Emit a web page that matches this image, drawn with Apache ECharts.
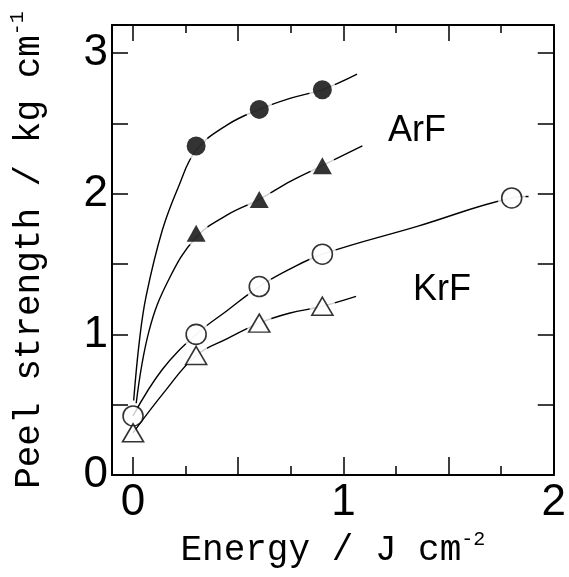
<!DOCTYPE html>
<html>
<head>
<meta charset="utf-8">
<script src="https://cdn.jsdelivr.net/npm/echarts@6/dist/echarts.min.js"></script>
<style>
  html, body { margin: 0; padding: 0; background: #fff; }
  #chart { width: 569px; height: 577px; }
</style>
</head>
<body>
<div id="chart"></div>
<script>
// measured points
const arfCircle = [[0.3, 2.34], [0.6, 2.6], [0.9, 2.74]]
const arfTriangle = [[0.3, 1.72], [0.6, 1.96], [0.9, 2.2]]
const krfCircle = [[0, 0.42], [0.3, 1.0], [0.6, 1.34], [0.9, 1.57], [1.8, 1.97]]
const krfTriangle = [[0, 0.3], [0.3, 0.85], [0.6, 1.08], [0.9, 1.2]]

// hand-drawn fit curves
const arfCircleCurve = [[0.003, 0.53], [0.03, 0.95], [0.062, 1.27], [0.139, 1.74], [0.216, 2.05], [0.3, 2.31], [0.448, 2.49], [0.6, 2.6], [0.75, 2.68], [0.9, 2.74], [1.065, 2.85]]
const arfTriangleCurve = [[0.015, 0.51], [0.077, 1.03], [0.17, 1.39], [0.3, 1.69], [0.448, 1.85], [0.6, 1.96], [0.75, 2.09], [0.9, 2.2], [1.09, 2.34]]
const krfCircleCurve = [[0, 0.42], [0.139, 0.75], [0.3, 1.0], [0.448, 1.17], [0.6, 1.34], [0.74, 1.46], [0.9, 1.57], [1.355, 1.77], [1.8, 1.97], [1.88, 1.98]]
const krfTriangleCurve = [[0, 0.3], [0.154, 0.6], [0.3, 0.85], [0.448, 0.97], [0.6, 1.08], [0.742, 1.15], [0.9, 1.2], [1.06, 1.27]]

const xMajor = [0, 0.5, 1, 1.5, 2]
const xMinor = [0.25, 0.75, 1.25, 1.75]
const xLabels = [0, 1, 2]
const yTicks = [0.5, 1, 1.5, 2, 2.5, 3]
const yLabels = [0, 1, 2, 3]

const chart = echarts.init(document.getElementById('chart'))

const monoFont = 'Liberation Mono'
const numFont = 'Liberation Sans'
const line = { color: '#000', width: 2 }
const tick = { color: '#000', width: 1.5 }

const xBase = {
  type: 'value',
  min: -0.1,
  max: 2,
  splitLine: { show: false }
}
const yBase = {
  type: 'value',
  min: 0,
  max: 3.2,
  splitLine: { show: false }
}

const curve = (data) => ({
  type: 'line',
  data,
  smooth: 0.4,
  showSymbol: false,
  symbol: 'none',
  lineStyle: { color: '#000', width: 1.4 },
  silent: true,
  z: 2
})

const halo = (data, size) => ({
  type: 'scatter',
  data: data.filter(d => d[0] > 0),
  symbol: 'circle',
  symbolSize: size,
  itemStyle: { color: '#fff' },
  silent: true,
  z: 3
})

const option = {
  backgroundColor: '#fff',
  animation: false,
  grid: { left: 109, right: 8, top: 25, bottom: 102 },
  xAxis: [
    {
      ...xBase,
      position: 'bottom',
      name: 'Energy / J cm{sup|-2}',
      nameLocation: 'middle',
      nameGap: 50,
      nameTextStyle: {
        fontFamily: monoFont, fontSize: 36, color: '#000',
        rich: { sup: { fontFamily: monoFont, fontSize: 20, color: '#000', padding: [0, 0, 22, 0] } }
      },
      axisLine: { show: true, onZero: false, lineStyle: line },
      axisTick: { show: true, inside: true, length: 18, customValues: xMajor, lineStyle: tick },
      axisLabel: { show: true, customValues: xLabels, fontFamily: numFont, fontSize: 44, color: '#000', margin: 6 }
    },
    {
      ...xBase,
      position: 'bottom',
      axisLine: { show: false, onZero: false },
      axisTick: { show: true, inside: true, length: 9, customValues: xMinor, lineStyle: tick },
      axisLabel: { show: false }
    },
    {
      ...xBase,
      position: 'top',
      axisLine: { show: true, onZero: false, lineStyle: line },
      axisTick: { show: true, inside: true, length: 16, customValues: xMajor, lineStyle: tick },
      axisLabel: { show: false }
    },
    {
      ...xBase,
      position: 'top',
      axisLine: { show: false, onZero: false },
      axisTick: { show: true, inside: true, length: 8, customValues: xMinor, lineStyle: tick },
      axisLabel: { show: false }
    }
  ],
  yAxis: [
    {
      ...yBase,
      position: 'left',
      name: 'Peel strength / kg cm{sup|-1}',
      nameLocation: 'middle',
      nameRotate: 90,
      nameGap: 62,
      nameTextStyle: {
        fontFamily: monoFont, fontSize: 36, color: '#000',
        rich: { sup: { fontFamily: monoFont, fontSize: 20, color: '#000', padding: [0, 0, 22, 0] } }
      },
      axisLine: { show: true, onZero: false, lineStyle: line },
      axisTick: { show: true, inside: true, length: 16, customValues: yTicks, lineStyle: tick },
      axisLabel: { show: true, customValues: yLabels, fontFamily: numFont, fontSize: 44, color: '#000', margin: 4 }
    },
    {
      ...yBase,
      position: 'right',
      axisLine: { show: true, onZero: false, lineStyle: line },
      axisTick: { show: true, inside: true, length: 16, customValues: yTicks, lineStyle: tick },
      axisLabel: { show: false }
    }
  ],
  series: [
    curve(arfCircleCurve),
    curve(arfTriangleCurve),
    curve(krfCircleCurve),
    curve(krfTriangleCurve),
    halo(arfCircle, 27),
    halo(arfTriangle, 26),
    halo(krfCircle, 28),
    halo(krfTriangle, 26),
    {
      name: 'ArF circle',
      type: 'scatter',
      data: arfCircle,
      symbol: 'circle',
      symbolSize: 19,
      itemStyle: { color: '#000' },
      z: 4
    },
    {
      name: 'ArF triangle',
      type: 'scatter',
      data: arfTriangle,
      symbol: 'triangle',
      symbolSize: [19, 17],
      itemStyle: { color: '#000' },
      z: 4
    },
    {
      name: 'KrF circle',
      type: 'scatter',
      data: krfCircle,
      symbol: 'circle',
      symbolSize: 20,
      itemStyle: { color: '#fff', borderColor: '#000', borderWidth: 1.6 },
      z: 4
    },
    {
      name: 'KrF triangle',
      type: 'scatter',
      data: krfTriangle,
      symbol: 'triangle',
      symbolSize: [21, 18],
      itemStyle: { color: '#fff', borderColor: '#000', borderWidth: 1.6 },
      z: 4
    }
  ],
  graphic: [
    { type: 'text', left: 388, top: 113, style: { text: 'ArF', font: '36px "Liberation Sans"', fill: '#000' } },
    { type: 'text', left: 413, top: 272, style: { text: 'KrF', font: '36px "Liberation Sans"', fill: '#000' } }
  ]
}

chart.setOption(option)
</script>
</body>
</html>
